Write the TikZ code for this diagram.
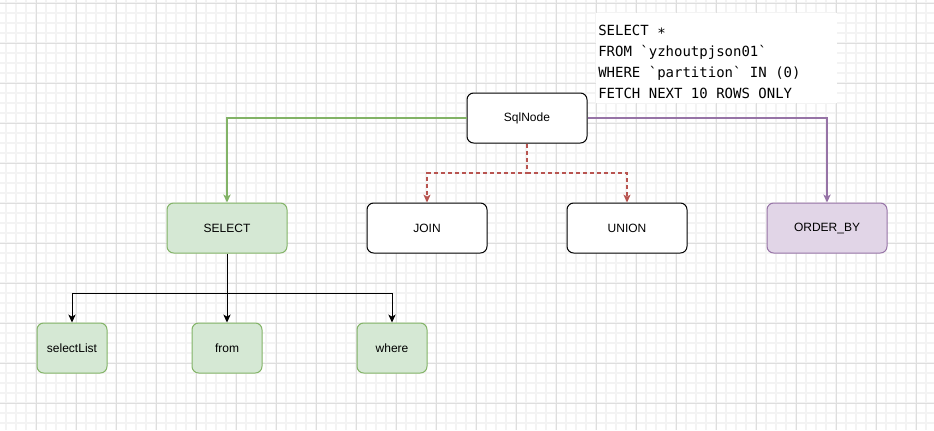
\documentclass[tikz,border=0pt]{standalone}
\usepackage{fontspec}
\setmainfont{Liberation Sans}
\newfontfamily\codefont{DejaVu Sans Mono}
\usetikzlibrary{arrows.meta}
\definecolor{gridminor}{HTML}{F3F3F3}
\definecolor{gridmajor}{HTML}{DEDEDE}
\definecolor{gfill}{HTML}{D5E8D4}
\definecolor{gline}{HTML}{82B366}
\definecolor{pfill}{HTML}{E1D5E7}
\definecolor{pline}{HTML}{9673A6}
\definecolor{rline}{HTML}{B85450}
\tikzset{
  box/.style={draw=black, line width=0.75pt, rounded corners=5pt, fill=white,
    minimum width=90pt, minimum height=37.5pt, inner sep=0pt,
    font=\fontsize{9}{11}\selectfont},
  smallbox/.style={box, minimum width=52.5pt},
  greenbox/.style={draw=gline, fill=gfill},
  purplebox/.style={draw=pline, fill=pfill},
  tipa/.style={-{Stealth[length=6pt,width=5.5pt,inset=1.6pt]}},
  greenline/.style={tipa, draw=gline, line width=1.5pt},
  purpleline/.style={tipa, draw=pline, line width=1.5pt},
  redline/.style={-{Stealth[length=6pt,width=5.5pt,inset=1.6pt,line width=0pt]}, color=rline, line width=0.9pt, dash pattern=on 3pt off 2.25pt},
  blackline/.style={tipa, draw=black, line width=0.75pt},
  codetext/.style={align=left, inner sep=0pt, font=\codefont\fontsize{10.5}{15.75}\selectfont}
}
\begin{document}
\begin{tikzpicture}[x=0.75pt, y=-0.75pt]
\useasboundingbox (0,0) rectangle (934,430);
\fill[white] (0,0) rectangle (934,430);
% grid
\foreach \x in {6,16,...,926} \draw[gridminor, line width=1pt] (\x,0) -- (\x,430);
\foreach \y in {3,13,...,423} \draw[gridminor, line width=1pt] (0,\y) -- (934,\y);
\foreach \x in {36,76,...,916} \draw[gridmajor, line width=0.75pt] (\x,0) -- (\x,430);
\foreach \y in {3,43,...,423} \draw[gridmajor, line width=0.75pt] (0,\y) -- (934,\y);
% code text
\fill[white] (596,13) rectangle (837,103);
\node[codetext, anchor=west] (code) at (598,61.5) {SELECT ∗\\FROM \textasciigrave yzhoutpjson01\textasciigrave\\WHERE \textasciigrave partition\textasciigrave{} IN (0)\\FETCH NEXT 10 ROWS ONLY};
% nodes
\node[box] (sql) at (527,118) {SqlNode};
\node[box, greenbox] (select) at (227,228) {SELECT};
\node[box] (join) at (427,228) {JOIN};
\node[box] (union) at (627,228) {UNION};
\node[box, purplebox] (order) at (827,228) {ORDER\_BY};
\node[smallbox, greenbox] (selectlist) at (72,348) {selectList};
\node[smallbox, greenbox] (from) at (227,348) {from};
\node[smallbox, greenbox] (where) at (392,348) {where};
\coordinate (rsplit) at (527,173);
\coordinate (bsplit) at (227,293);
% connectors
\draw[greenline] (sql.west) -| (select.north);
\draw[purpleline] (sql.east) -| (order.north);
\draw[redline] (sql.south) -- (rsplit) -| (join.north);
\draw[redline] (rsplit) -| (union.north);
\draw[blackline] (select.south) -- (bsplit) -| (selectlist.north);
\draw[blackline] (bsplit) -- (from.north);
\draw[blackline] (bsplit) -| (where.north);
\end{tikzpicture}
\end{document}
